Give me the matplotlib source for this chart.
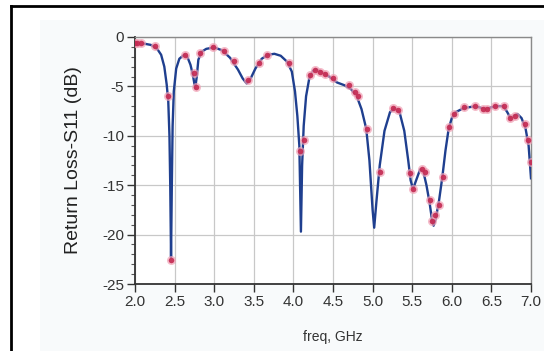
import matplotlib
matplotlib.use("Agg")
import matplotlib.pyplot as plt
from matplotlib.lines import Line2D

# Simulated S11 (line)
sim_freq = [2.00, 2.10, 2.20, 2.28, 2.33, 2.37, 2.40, 2.42, 2.435, 2.445, 2.455, 2.465, 2.475, 2.49,
            2.52, 2.56, 2.62, 2.66, 2.70, 2.73, 2.76, 2.78, 2.80, 2.84, 2.90, 3.00, 3.10, 3.20,
            3.30, 3.36, 3.41, 3.46, 3.52, 3.60, 3.68, 3.76, 3.84, 3.92, 3.98, 4.02, 4.05, 4.075,
            4.095, 4.11, 4.13, 4.16, 4.20, 4.25, 4.29, 4.35, 4.45, 4.55, 4.65, 4.73, 4.80, 4.86,
            4.92, 4.96, 5.00, 5.02, 5.05, 5.09, 5.15, 5.22, 5.28, 5.34, 5.40, 5.45, 5.48, 5.51,
            5.55, 5.60, 5.64, 5.68, 5.72, 5.75, 5.77, 5.80, 5.84, 5.88, 5.92, 5.96, 6.00, 6.05,
            6.15, 6.30, 6.42, 6.55, 6.65, 6.70, 6.74, 6.78, 6.83, 6.88, 6.93, 6.97, 7.00]
sim_s11 = [-0.6, -0.65, -0.8, -1.2, -1.8, -3.0, -4.8, -6.5, -10.0, -15.0, -22.3, -15.0, -9.0, -5.5,
           -3.2, -2.2, -1.8, -2.0, -2.8, -3.8, -5.2, -4.0, -2.3, -1.5, -1.2, -1.05, -1.35, -2.1,
           -3.3, -4.2, -4.7, -4.2, -3.2, -2.2, -1.8, -1.7, -1.9, -2.5, -3.5, -5.5, -8.0, -11.0,
           -19.7, -13.0, -9.0, -6.0, -4.2, -3.4, -3.3, -3.5, -4.0, -4.6, -4.9, -5.3, -6.0, -7.3,
           -9.3, -12.5, -17.5, -19.3, -16.5, -13.0, -9.5, -7.6, -7.2, -7.6, -9.5, -12.5, -14.5, -15.4,
           -14.5, -13.4, -13.6, -15.0, -16.8, -18.5, -19.1, -18.3, -16.5, -14.2, -11.5, -9.3, -8.2, -7.6,
           -7.2, -7.0, -7.3, -7.0, -7.0, -7.6, -8.2, -8.0, -7.8, -8.2, -9.2, -11.0, -14.3]

# Measured S11 (markers)
meas_freq = [2.00, 2.03, 2.07, 2.25, 2.42, 2.46, 2.63, 2.74, 2.77, 2.82, 2.99, 3.12, 3.25, 3.43,
             3.57, 3.67, 3.94, 4.08, 4.13, 4.21, 4.27, 4.33, 4.40, 4.50, 4.70, 4.78, 4.82, 4.93,
             5.09, 5.26, 5.32, 5.47, 5.51, 5.62, 5.66, 5.72, 5.75, 5.79, 5.84, 5.89, 5.97, 6.03,
             6.16, 6.29, 6.40, 6.45, 6.55, 6.66, 6.74, 6.80, 6.92, 6.96, 7.00]
meas_s11 = [-0.6, -0.6, -0.65, -0.9, -6.0, -22.6, -1.8, -3.6, -5.1, -1.6, -1.05, -1.4, -2.4, -4.4,
            -2.6, -1.8, -2.6, -11.5, -10.4, -3.8, -3.3, -3.5, -3.7, -4.2, -4.9, -5.6, -6.0, -9.3,
            -13.7, -7.2, -7.4, -13.8, -15.4, -13.4, -13.7, -16.5, -18.6, -18.0, -17.0, -14.2, -9.1, -7.8,
            -7.1, -7.0, -7.3, -7.3, -7.0, -7.0, -8.2, -8.0, -8.8, -10.4, -12.7]

x_ticks = [2.0, 2.5, 3.0, 3.5, 4.0, 4.5, 5.0, 5.5, 6.0, 6.5, 7.0]
x_ticklabels = ["2.0", "2.5", "3.0", "3.5", "4.0", "4.5", "5.0", "5.5", "6.0", "6.5", "7.0"]
y_ticks = [0, -5, -10, -15, -20, -25]
y_ticklabels = ["0", "-5", "-10", "-15", "-20", "-25"]

plt.rcParams['font.family'] = ['Liberation Sans', 'DejaVu Sans']

W, H = 544, 351
fig = plt.figure(figsize=(W / 100, H / 100), dpi=100)
fig.patch.set_facecolor('white')

# faint panel background
bg = plt.Rectangle((40 / W, 0), 1 - 40 / W, 1 - 20 / H, transform=fig.transFigure,
                   facecolor='#f8fafb', edgecolor='none', zorder=-5)
fig.add_artist(bg)
# outer black frame (top & left)
fig.add_artist(Line2D([11 / W, 1], [1 - 6 / H, 1 - 6 / H], transform=fig.transFigure,
                      color='black', lw=2.0, zorder=-4))
fig.add_artist(Line2D([11 / W, 11 / W], [0, 1 - 6 / H], transform=fig.transFigure,
                      color='black', lw=2.0, zorder=-4))

ax = fig.add_axes([135 / W, 1 - 284 / H, (531 - 135) / W, (284 - 37) / H])
ax.set_zorder(2)
ax.set_facecolor('white')

ax.plot(sim_freq, sim_s11, color='#1f3f8f', lw=1.7, zorder=3)
ax.plot(meas_freq, meas_s11, linestyle='none', marker='o', markersize=6.5,
        markerfacecolor='#f0a0b4', markeredgecolor='none', alpha=0.7, zorder=4)
ax.plot(meas_freq, meas_s11, linestyle='none', marker='o', markersize=4,
        markerfacecolor='#c42a52', markeredgecolor='none', alpha=0.9, zorder=5)

ax.set_xlim(2.0, 7.0)
ax.set_ylim(-25, 0)
ax.set_xticks(x_ticks)
ax.set_xticklabels(x_ticklabels)
ax.set_yticks(y_ticks)
ax.set_yticklabels(y_ticklabels)
ax.set_yticks(range(-25, 1), minor=True)

ax.grid(True, which='major', color='#c8c8c8', lw=0.9)
ax.set_axisbelow(True)

for side in ['left', 'bottom']:
    ax.spines[side].set_color('#333333')
    ax.spines[side].set_linewidth(1.3)
for side in ['top', 'right']:
    ax.spines[side].set_color('#8a8a8a')
    ax.spines[side].set_linewidth(1.0)

ax.tick_params(axis='both', which='major', direction='out', length=6, width=1.0,
               color='#333333', labelsize=11, labelcolor='#333333', pad=2)
ax.tick_params(axis='y', which='minor', direction='out', length=3, width=0.8, color='#555555')

ax.set_xlabel('freq, GHz', fontsize=10, color='#333333', labelpad=15)
ax.set_ylabel('Return Loss-S11 (dB)', fontsize=14, color='#222222', labelpad=14)

fig.savefig('out.png', dpi=100)
